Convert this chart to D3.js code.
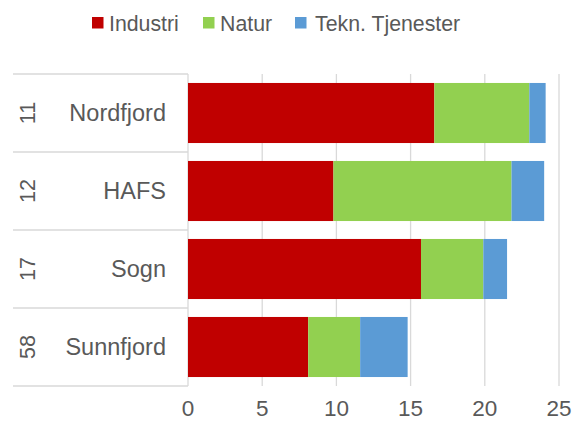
<!DOCTYPE html>
<html lang="en">
<head>
<meta charset="UTF-8">
<script src="https://d3js.org/d3.v7.min.js"></script>
<style>
  body { margin: 0; background: #fff; }
  svg text { font-family: "Liberation Sans", Arial, sans-serif; fill: #595959; }
</style>
</head>
<body>
<svg id="chart" width="574" height="423"></svg>
<script>
// ---- data ----
const regions = ["Nordfjord", "HAFS", "Sogn", "Sunnfjord"];
const codes = ["11", "12", "17", "58"];
const seriesNames = ["Industri", "Natur", "Tekn. Tjenester"];
const industri = [16.6, 9.8, 15.7, 8.1];
const natur = [6.4, 12.0, 4.2, 3.5];
const tekn = [1.1, 2.2, 1.6, 3.2];
const xTicks = [0, 5, 10, 15, 20, 25];
const colors = ["#C00000", "#92D050", "#5B9BD5"];

// ---- layout ----
const plot = { left: 188, right: 559, top: 74, bottom: 386 };
const tableLeft = 13;
const grid = "#d9d9d9";

const svg = d3.select("#chart");

const x = d3.scaleLinear().domain([0, 25]).range([plot.left, plot.right]);
const y = d3.scaleBand().domain(regions).range([plot.top, plot.bottom]).paddingInner(0.23).paddingOuter(0.115);
const yCell = d3.scaleBand().domain(regions).range([plot.top, plot.bottom]);

// gridlines
svg.append("g").selectAll("line").data(xTicks.slice(1)).join("line")
  .attr("x1", d => x(d)).attr("x2", d => x(d))
  .attr("y1", plot.top).attr("y2", plot.bottom)
  .attr("stroke", grid).attr("stroke-width", 1.3);

// category table lines
const rowEdges = regions.map(r => yCell(r)).concat([plot.bottom]);
svg.append("g").selectAll("line").data(rowEdges).join("line")
  .attr("x1", tableLeft).attr("x2", plot.left)
  .attr("y1", d => d).attr("y2", d => d)
  .attr("stroke", grid).attr("stroke-width", 1.3);
svg.append("line")
  .attr("x1", plot.left).attr("x2", plot.left)
  .attr("y1", plot.top).attr("y2", plot.bottom)
  .attr("stroke", grid).attr("stroke-width", 1.3);

// stacked bars
const rows = regions.map((r, i) => ({ region: r, Industri: industri[i], Natur: natur[i], "Tekn. Tjenester": tekn[i] }));
const stacked = d3.stack().keys(seriesNames)(rows);
svg.append("g").selectAll("g").data(stacked).join("g")
  .attr("fill", (d, i) => colors[i])
  .selectAll("rect").data(d => d).join("rect")
  .attr("x", d => x(d[0]))
  .attr("width", d => x(d[1]) - x(d[0]))
  .attr("y", d => y(d.data.region))
  .attr("height", y.bandwidth());

// category labels
svg.append("g").selectAll("text").data(regions).join("text")
  .attr("x", 166)
  .attr("y", d => yCell(d) + yCell.bandwidth() / 2)
  .attr("text-anchor", "end")
  .attr("dominant-baseline", "central")
  .attr("font-size", 23.5)
  .text(d => d);

svg.append("g").selectAll("text").data(regions).join("text")
  .attr("transform", (d, i) => `translate(28,${yCell(d) + yCell.bandwidth() / 2}) rotate(-90)`)
  .attr("text-anchor", "middle")
  .attr("dominant-baseline", "central")
  .attr("font-size", 21.5)
  .text((d, i) => codes[i]);

// x tick labels
svg.append("g").selectAll("text").data(xTicks).join("text")
  .attr("x", d => x(d))
  .attr("y", 416)
  .attr("text-anchor", "middle")
  .attr("font-size", 22.5)
  .text(d => d);

// legend
const legendItems = [
  { name: seriesNames[0], sx: 92, tx: 109 },
  { name: seriesNames[1], sx: 203, tx: 220 },
  { name: seriesNames[2], sx: 295, tx: 315 }
];
const lg = svg.append("g").selectAll("g").data(legendItems).join("g");
lg.append("rect")
  .attr("x", d => d.sx).attr("y", 17)
  .attr("width", 11.5).attr("height", 11.5)
  .attr("fill", (d, i) => colors[i]);
lg.append("text")
  .attr("x", d => d.tx).attr("y", 31)
  .attr("font-size", 21.3)
  .text(d => d.name);
</script>
</body>
</html>
